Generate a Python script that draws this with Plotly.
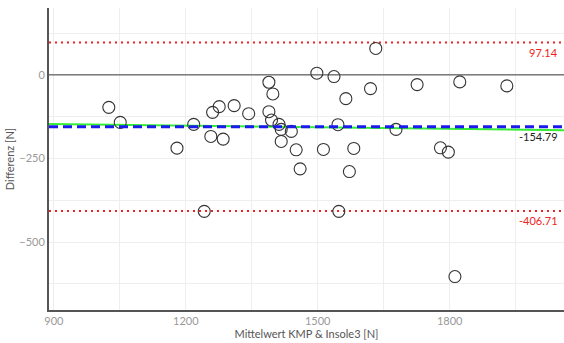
import numpy as np
import plotly.graph_objects as go

# Bland-Altman data: mean of both methods (x) and difference (y), in N
mean_kmp_insole = [
    1025, 1051, 1180, 1218, 1242, 1257, 1261, 1276, 1285, 1310,
    1343, 1389, 1398, 1389, 1395, 1412, 1417, 1417, 1440, 1451,
    1460, 1498, 1513, 1537, 1546, 1548, 1564, 1572, 1582, 1620,
    1632, 1678, 1726, 1779, 1797, 1812, 1823, 1930,
]
difference = [
    -97, -142, -219, -148, -408, -184, -112, -95, -192, -92,
    -116, -22, -57, -110, -135, -148, -163, -199, -169, -224,
    -281, 5, -223, -5, -149, -408, -71, -289, -220, -41,
    79, -163, -29, -218, -231, -603, -21, -33,
]

mean_diff = -154.79
upper_loa = 97.14
lower_loa = -406.71

x_range = [889, 2060]
y_range = [-703, 200]

font_family = "Lato, 'Noto Sans', sans-serif"

# linear trend of the differences
slope, intercept = np.polyfit(mean_kmp_insole, difference, 1)
trend_x = np.array(x_range, dtype=float)
trend_y = slope * trend_x + intercept

fig = go.Figure()

fig.add_trace(go.Scatter(
    x=trend_x, y=trend_y, mode="lines",
    line=dict(color="#33ee33", width=2), hoverinfo="skip", showlegend=False,
))

fig.add_trace(go.Scatter(
    x=mean_kmp_insole, y=difference, mode="markers",
    marker=dict(symbol="circle-open", size=12, color="#333333",
                line=dict(width=1.1, color="#333333")),
    showlegend=False,
))

shapes = [
    dict(type="line", xref="paper", x0=0, x1=1, yref="y", y0=0, y1=0,
         line=dict(color="#3a3a3a", width=1), layer="above"),
    dict(type="line", xref="paper", x0=0, x1=1, yref="y", y0=upper_loa, y1=upper_loa,
         line=dict(color="#ee2222", width=2, dash="2px,4px"), layer="below"),
    dict(type="line", xref="paper", x0=0, x1=1, yref="y", y0=lower_loa, y1=lower_loa,
         line=dict(color="#ee2222", width=2, dash="2px,4px"), layer="below"),
    dict(type="line", xref="paper", x0=0, x1=1, yref="y", y0=mean_diff, y1=mean_diff,
         line=dict(color="#1a1aee", width=3, dash="9px,5px")),
]

annotations = [
    dict(xref="paper", x=0.993, yref="y", y=upper_loa, yshift=-10, text=f"{upper_loa:.2f}",
         showarrow=False, xanchor="right", yanchor="middle",
         font=dict(color="#ee2222", size=11, family=font_family)),
    dict(xref="paper", x=0.993, yref="y", y=mean_diff, yshift=-10, text=f"{mean_diff:.2f}",
         showarrow=False, xanchor="right", yanchor="middle",
         font=dict(color="#222222", size=11, family=font_family)),
    dict(xref="paper", x=0.993, yref="y", y=lower_loa, yshift=-10, text=f"{lower_loa:.2f}",
         showarrow=False, xanchor="right", yanchor="middle",
         font=dict(color="#ee2222", size=11, family=font_family)),
]

fig.update_layout(
    width=564, height=343,
    margin=dict(l=49, r=0, t=8, b=33),
    paper_bgcolor="white", plot_bgcolor="white",
    font=dict(family=font_family, size=11, color="#999999"),
    shapes=shapes, annotations=annotations,
    xaxis=dict(
        range=x_range, dtick=300, tick0=900,
        showgrid=True, gridcolor="#eeeeee", gridwidth=1,
        minor=dict(dtick=150, tick0=900, showgrid=True, gridcolor="#eeeeee"),
        showline=True, linecolor="#555555", linewidth=2,
        zeroline=False, ticks="", ticklen=0,
        tickfont=dict(size=11, color="#999999"),
        title=dict(text="Mittelwert KMP & Insole3 [N]", standoff=2,
                   font=dict(size=11, color="#555555")),
    ),
    yaxis=dict(
        range=y_range, dtick=250, tick0=0,
        showgrid=True, gridcolor="#eeeeee", gridwidth=1,
        minor=dict(dtick=125, tick0=0, showgrid=True, gridcolor="#eeeeee"),
        showline=True, linecolor="#555555", linewidth=2,
        zeroline=False, ticks="", ticklen=0,
        tickfont=dict(size=11, color="#999999"),
        title=dict(text="Differenz [N]", standoff=2,
                   font=dict(size=11, color="#555555")),
    ),
)

fig.write_html("out.html")
